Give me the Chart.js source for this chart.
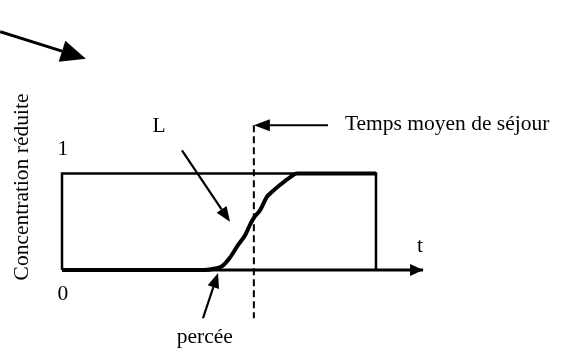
<!DOCTYPE html>
<html>
<head>
<meta charset="utf-8">
<script src="https://cdn.jsdelivr.net/npm/chart.js@4/dist/chart.umd.min.js"></script>
<style>
  html, body { margin: 0; padding: 0; background: #fff; }
  #wrap { width: 565px; height: 352px; position: relative; }
</style>
</head>
<body>
<div id="wrap"><canvas id="rtd-chart"></canvas></div>
<script>
// reduced time t (frame runs 0..10) and reduced concentration C (0..1)
const frameT = [0, 0, 10, 10];
const frameC = [0, 1, 1, 0];

const axisT = [0, 11.5];
const axisC = [0, 0];

const curveT = [0, 4.55, 4.87, 5.10, 5.35, 5.61, 5.83, 5.99, 6.11, 6.31, 6.53, 6.69, 6.94, 7.26, 7.48, 10];
const curveC = [0, 0, 0.015, 0.04, 0.13, 0.26, 0.36, 0.47, 0.54, 0.62, 0.76, 0.81, 0.88, 0.96, 1, 1];

const meanT = 6.11;
const meanC = [1.5, -0.5];

// annotation arrows: tail -> tip, in chart units
const arrowFromT = [-1.97, 3.82, 4.49, 8.47, 0];
const arrowFromC = [2.47, 1.24, -0.50, 1.50, 0];
const arrowToT = [0.76, 5.35, 4.97, meanT, 11.5];
const arrowToC = [2.19, 0.50, -0.03, 1.50, 0];

const labelText = ["1", "0", "L", "t", "percée", "Temps moyen de séjour", "Concentration réduite"];
const labelT = [0.03, 0.03, 3.09, 11.4, 4.55, 9.01, -1.27];
const labelC = [1.19, -0.31, 1.43, 0.19, -0.76, 1.45, 0.86];

const toPoints = (xs, ys) => xs.map((x, i) => ({ x: x, y: ys[i] }));

const annotations = {
    id: "annotations",
    afterDatasetsDraw(chart) {
        const ctx = chart.ctx;
        const sx = chart.scales.x;
        const sy = chart.scales.y;
        const headLen = [25, 15, 15, 16, 13];
        const headHalf = [11, 6, 6, 6, 6];

        ctx.save();
        ctx.strokeStyle = "#000";
        ctx.fillStyle = "#000";
        ctx.lineCap = "butt";

        arrowFromT.forEach((t0, i) => {
            const x0 = sx.getPixelForValue(t0);
            const y0 = sy.getPixelForValue(arrowFromC[i]);
            const x1 = sx.getPixelForValue(arrowToT[i]);
            const y1 = sy.getPixelForValue(arrowToC[i]);
            const a = Math.atan2(y1 - y0, x1 - x0);
            const bx = x1 - headLen[i] * Math.cos(a);
            const by = y1 - headLen[i] * Math.sin(a);

            if (i < 4) {
                ctx.lineWidth = i === 0 ? 3 : 2.2;
                ctx.beginPath();
                ctx.moveTo(x0, y0);
                ctx.lineTo(bx, by);
                ctx.stroke();
            }
            ctx.beginPath();
            ctx.moveTo(x1, y1);
            ctx.lineTo(bx + headHalf[i] * Math.sin(a), by - headHalf[i] * Math.cos(a));
            ctx.lineTo(bx - headHalf[i] * Math.sin(a), by + headHalf[i] * Math.cos(a));
            ctx.closePath();
            ctx.fill();
        });

        ctx.font = "21.5px 'Liberation Serif', 'DejaVu Serif', serif";
        labelText.forEach((txt, i) => {
            const x = sx.getPixelForValue(labelT[i]);
            const y = sy.getPixelForValue(labelC[i]);
            if (i === labelText.length - 1) {
                ctx.save();
                ctx.translate(x, y);
                ctx.rotate(-Math.PI / 2);
                ctx.textAlign = "center";
                ctx.textBaseline = "middle";
                ctx.fillText(txt, 0, 0);
                ctx.restore();
            } else {
                ctx.textAlign = i === 5 ? "left" : "center";
                ctx.textBaseline = "alphabetic";
                ctx.fillText(txt, x, y);
            }
        });
        ctx.restore();
    },
};

new Chart(document.getElementById("rtd-chart").getContext("2d"), {
    type: "scatter",
    data: {
        datasets: [
            {
                label: "frame",
                data: toPoints(frameT, frameC),
                showLine: true,
                borderColor: "#000",
                borderWidth: 2.5,
                pointRadius: 0,
            },
            {
                label: "t axis",
                data: toPoints(axisT, axisC),
                showLine: true,
                borderColor: "#000",
                borderWidth: 3,
                pointRadius: 0,
            },
            {
                label: "response",
                data: toPoints(curveT, curveC),
                showLine: true,
                borderColor: "#000",
                borderWidth: 4,
                cubicInterpolationMode: "monotone",
                pointRadius: 0,
            },
            {
                label: "mean residence time",
                data: toPoints([meanT, meanT], meanC),
                showLine: true,
                borderColor: "#000",
                borderWidth: 2,
                borderDash: [7, 4],
                pointRadius: 0,
            },
        ],
    },
    options: {
        responsive: true,
        maintainAspectRatio: false,
        animation: false,
        layout: { padding: 0 },
        scales: {
            x: { type: "linear", display: false, min: -1.975, max: 16.02 },
            y: { type: "linear", display: false, min: -0.85, max: 2.798 },
        },
        plugins: {
            legend: { display: false },
            tooltip: { enabled: false },
        },
    },
    plugins: [annotations],
});
</script>
</body>
</html>
